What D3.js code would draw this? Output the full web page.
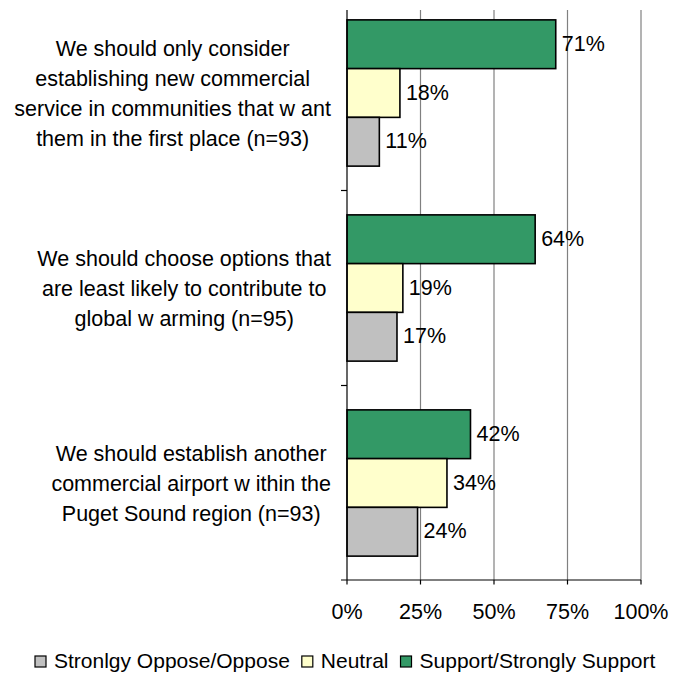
<!DOCTYPE html>
<html><head><meta charset="utf-8">
<script src="https://cdn.jsdelivr.net/npm/d3@7"></script>
<style>body{margin:0;background:#fff}svg{display:block}text{font-family:"Liberation Sans",Arial,sans-serif;fill:#000}</style>
</head><body><svg id="c" width="674" height="675"></svg>
<script>
const categories = [
  ["We should only consider","establishing new  commercial","service in communities that w ant","them in the first place (n=93)"],
  ["We should choose options that","are least likely to contribute to","global w arming (n=95)"],
  ["We should establish another","commercial airport w ithin the","Puget Sound region (n=93)"]
];
const seriesNames = ["Support/Strongly Support","Neutral","Stronlgy Oppose/Oppose"];
const support = [71, 64, 42];
const neutral = [18, 19, 34];
const oppose = [11, 17, 24];
const seriesColors = ["#339966","#FFFFCC","#C0C0C0"];
const xTicks = [0,25,50,75,100];
const legendOrder = ["Stronlgy Oppose/Oppose","Neutral","Support/Strongly Support"];

const svg = d3.select("#c");
const x = d3.scaleLinear().domain([0,100]).range([347,641]);
const catIdx = categories.map((d,i)=>i);
const y = d3.scaleBand().domain(catIdx).range([-4.5,580.5]).paddingInner(0.25).paddingOuter(0.125);
const ys = d3.scaleBand().domain([0,1,2]).range([0,y.bandwidth()]);
const vals = [support, neutral, oppose];
const plotTop = 10, plotBottom = 580;

// gridlines
svg.append("g").selectAll("line").data(xTicks.slice(1)).join("line")
  .attr("x1",d=>x(d)).attr("x2",d=>x(d)).attr("y1",plotTop).attr("y2",plotBottom)
  .attr("stroke","#808080").attr("stroke-width",1.2);

// bars
const g = svg.append("g");
vals.forEach((arr,s)=>{
  g.selectAll(null).data(arr).join("rect")
    .attr("x",x(0)).attr("y",(d,i)=>y(i)+ys(s))
    .attr("width",d=>x(d)-x(0)).attr("height",ys.bandwidth())
    .attr("fill",seriesColors[s]).attr("stroke","#000").attr("stroke-width",1.6);
  g.selectAll(null).data(arr).join("text")
    .attr("x",d=>x(d)+6).attr("y",(d,i)=>y(i)+ys(s)+ys.bandwidth()/2-1)
    .attr("dy","0.35em").attr("font-size",21.5).text(d=>d+"%");
});

// axes
const ax = svg.append("g").attr("stroke","#000").attr("stroke-width",1.2);
ax.append("line").attr("x1",x(0)).attr("x2",x(0)).attr("y1",plotTop).attr("y2",plotBottom);
ax.append("line").attr("x1",341).attr("x2",x(100)).attr("y1",plotBottom).attr("y2",plotBottom);
ax.selectAll(null).data(xTicks).join("line").attr("x1",d=>x(d)).attr("x2",d=>x(d)).attr("y1",plotBottom).attr("y2",plotBottom+4.5);
const bounds = catIdx.slice(1).map(i=>y(i)-y.step()*y.paddingInner()/2);
ax.selectAll(null).data(bounds).join("line").attr("x1",341).attr("x2",x(0)).attr("y1",d=>d).attr("y2",d=>d);

svg.append("g").selectAll("text").data(xTicks).join("text")
  .attr("x",d=>x(d)).attr("y",611).attr("dy","0.35em").attr("text-anchor","middle")
  .attr("font-size",21.5).text(d=>d+"%");

// category labels
categories.forEach((lines,i)=>{
  const t = svg.append("text").attr("font-size",21.5).attr("text-anchor","middle");
  const cy = y(i)+y.bandwidth()/2;
  const n = lines.length;
  lines.forEach((l,k)=>{
    t.append("tspan").attr("y",cy+(k-(n-1)/2)*30).attr("dy","0.35em").text(l);
  });
  let maxW = 0;
  t.selectAll("tspan").each(function(){maxW=Math.max(maxW,this.getComputedTextLength());});
  t.selectAll("tspan").attr("x",331-maxW/2);
});

// legend
const leg = svg.append("g");
let lx = 35;
legendOrder.forEach(name=>{
  const s = seriesNames.indexOf(name);
  leg.append("rect").attr("x",lx).attr("y",656).attr("width",11).attr("height",11)
    .attr("fill",seriesColors[s]).attr("stroke","#000").attr("stroke-width",1.2);
  const t = leg.append("text").attr("x",lx+19).attr("y",661).attr("dy","0.35em").attr("font-size",21).text(name);
  lx += 19 + t.node().getComputedTextLength() + 12;
});
</script></body></html>
